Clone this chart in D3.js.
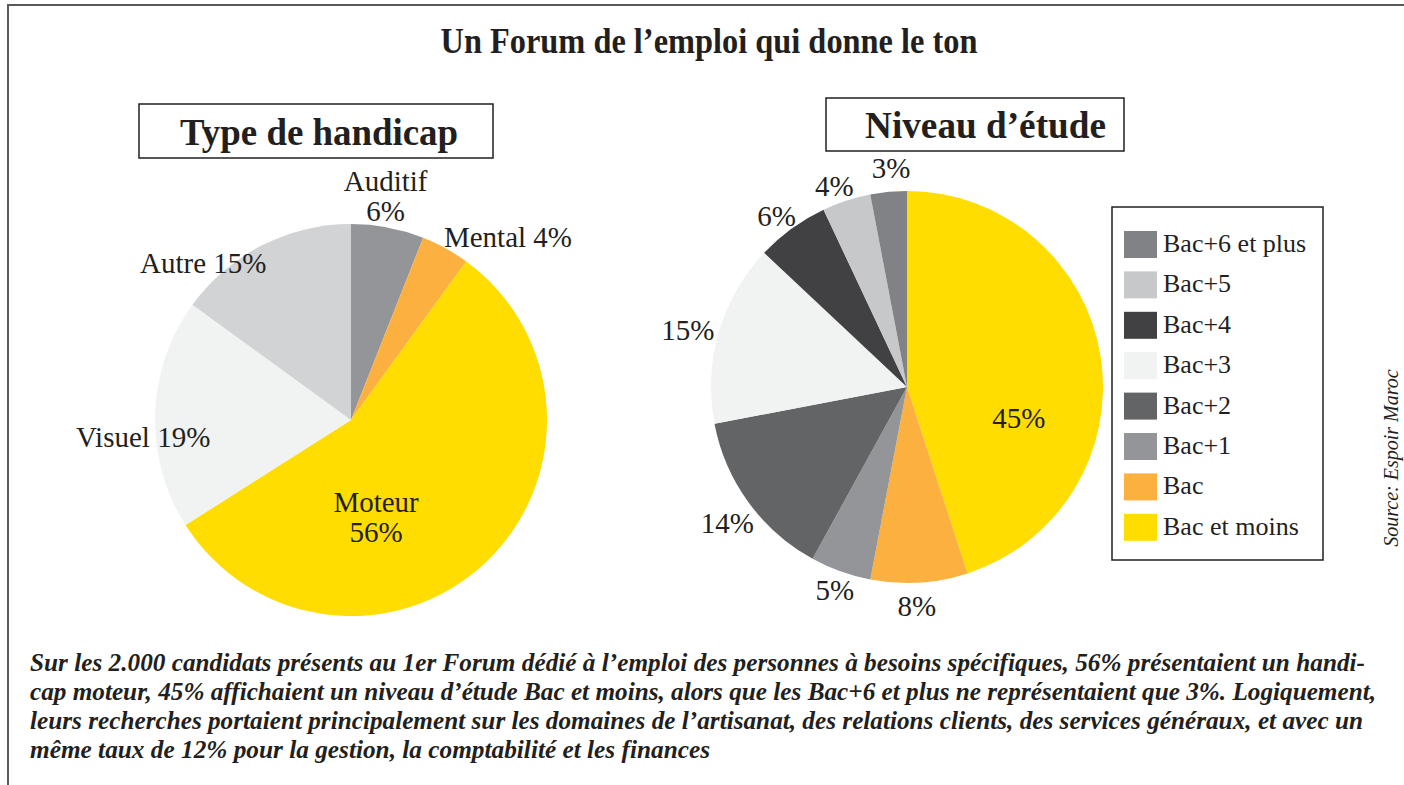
<!DOCTYPE html>
<html>
<head>
<meta charset="utf-8">
<script src="https://cdn.jsdelivr.net/npm/d3@7"></script>
<style>
  body { margin: 0; background: #fff; }
  text { font-family: "Liberation Serif", "Times New Roman", serif; fill: #231f20; }
</style>
</head>
<body>
<svg id="chart" width="1404" height="785"></svg>
<script>
// data
const handicapTypes = ['Auditif', 'Mental', 'Moteur', 'Visuel', 'Autre'];
const handicapValues = [6, 4, 56, 19, 15];
const handicapColors = ['#939598', '#fbb040', '#ffdd00', '#f1f2f2', '#d1d3d4'];

const etudeLevels = ['Bac et moins', 'Bac', 'Bac+1', 'Bac+2', 'Bac+3', 'Bac+4', 'Bac+5', 'Bac+6 et plus'];
const etudeValues = [45, 8, 5, 14, 15, 6, 4, 3];
const etudeColors = ['#ffdd00', '#fbb040', '#939598', '#636466', '#f1f2f2', '#414042', '#c7c8ca', '#808285'];

const title = 'Un Forum de l\u2019emploi qui donne le ton';
const source = 'Source: Espoir Maroc';
const captionLines = [
  'Sur les 2.000 candidats pr\u00e9sents au 1er Forum d\u00e9di\u00e9 \u00e0 l\u2019emploi des personnes \u00e0 besoins sp\u00e9cifiques, 56% pr\u00e9sentaient un handi-',
  'cap moteur, 45% affichaient un niveau d\u2019\u00e9tude Bac et moins, alors que les Bac+6 et plus ne repr\u00e9sentaient que 3%. Logiquement,',
  'leurs recherches portaient principalement sur les domaines de l\u2019artisanat, des relations clients, des services g\u00e9n\u00e9raux, et avec un',
  'm\u00eame taux de 12% pour la gestion, la comptabilit\u00e9 et les finances'
];

const svg = d3.select('#chart');

// frame (open on right/bottom, cropped in the original)
svg.append('path')
  .attr('d', 'M8,790V5H1404')
  .attr('fill', 'none')
  .attr('stroke', '#58595b')
  .attr('stroke-width', 2);

svg.append('text')
  .attr('x', 709).attr('y', 53)
  .attr('text-anchor', 'middle')
  .attr('font-size', 35)
  .attr('font-weight', 'bold')
  .attr('textLength', 537)
  .attr('lengthAdjust', 'spacingAndGlyphs')
  .text(title);

function boxTitle(txt, x, y, w, h, tx, tw) {
  svg.append('rect')
    .attr('x', x).attr('y', y).attr('width', w).attr('height', h)
    .attr('fill', '#fff').attr('stroke', '#231f20').attr('stroke-width', 1.5);
  svg.append('text')
    .attr('x', tx).attr('y', y + h - 13)
    .attr('font-size', 38)
    .attr('font-weight', 'bold')
    .attr('textLength', tw)
    .attr('lengthAdjust', 'spacingAndGlyphs')
    .text(txt);
}
boxTitle('Type de handicap', 139, 104, 354, 54, 180, 278);
boxTitle('Niveau d\u2019\u00e9tude', 826, 98, 298, 53, 865, 241);

// label tweaks: [dx, dy] from the arc centroid
const nudges = {
  'Auditif': [-7, -6], 'Mental': [50, 12], 'Moteur': [-42, 26], 'Visuel': [14, 24], 'Autre': [-47, 41],
  'Bac+6 et plus': [5, 2], 'Bac+5': [-4, 10], 'Bac+4': [0, 9], 'Bac+3': [-6, 5],
  'Bac+2': [0, 6], 'Bac+1': [3, -6], 'Bac': [-4, -3], 'Bac et moins': [15, 46]
};

function drawPie(cx, cy, r, names, values, colors, inside, labelFn) {
  let data = names.map((n, i) => ({name: n, value: values[i], color: colors[i]}));
  let arcs = d3.pie().sort(null).value(d => d.value)(data);
  let g = svg.append('g').attr('transform', `translate(${cx},${cy})`);
  let arc = d3.arc().innerRadius(0).outerRadius(r);
  g.selectAll('path.slice')
    .data(arcs)
    .join('path')
    .classed('slice', true)
    .attr('d', arc)
    .attr('fill', d => d.data.color);

  let outArc = d3.arc().innerRadius(r + 26).outerRadius(r + 26);
  let inArc = d3.arc().innerRadius(r * 0.5).outerRadius(r * 0.5);
  arcs.forEach(d => {
    let c = inside.includes(d.data.name) ? inArc.centroid(d) : outArc.centroid(d);
    let nd = nudges[d.data.name] || [0, 0];
    let lines = labelFn(d.data);
    let t = g.append('text')
      .attr('text-anchor', 'middle')
      .attr('font-size', 29)
      .attr('transform', `translate(${c[0] + nd[0]},${c[1] + nd[1]})`);
    lines.forEach((ln, i) => {
      t.append('tspan')
        .attr('x', 0)
        .attr('y', (i - (lines.length - 1) / 2) * 30 + 10)
        .text(ln);
    });
  });
}

drawPie(351, 420, 196, handicapTypes, handicapValues, handicapColors, ['Moteur'], d =>
  (d.name == 'Auditif' || d.name == 'Moteur') ? [d.name, d.value + '%'] : [d.name + ' ' + d.value + '%']);

drawPie(907, 387, 196, etudeLevels, etudeValues, etudeColors, ['Bac et moins'], d => [d.value + '%']);

// legend, top to bottom is the reverse of slice order
let legend = svg.append('g');
legend.append('rect')
  .attr('x', 1112).attr('y', 207).attr('width', 211).attr('height', 353)
  .attr('fill', '#fff').attr('stroke', '#231f20').attr('stroke-width', 1.5);
let legendItems = etudeLevels.map((n, i) => ({name: n, color: etudeColors[i]})).reverse();
let rowY = d3.scaleBand().domain(legendItems.map(d => d.name)).range([231, 231 + 40.4 * 8]);
let rows = legend.selectAll('g.row')
  .data(legendItems)
  .join('g')
  .classed('row', true)
  .attr('transform', d => `translate(1124,${rowY(d.name)})`);
rows.append('rect')
  .attr('width', 33).attr('height', 27)
  .attr('fill', d => d.color);
rows.append('text')
  .attr('x', 39).attr('y', 21)
  .attr('font-size', 26)
  .text(d => d.name);

svg.append('text')
  .attr('transform', 'translate(1398,458) rotate(-90)')
  .attr('text-anchor', 'middle')
  .attr('font-size', 20)
  .attr('font-style', 'italic')
  .text(source);

// caption
let capWidths = [1335, 1346, 1333, 680];
svg.append('g')
  .selectAll('text')
  .data(captionLines)
  .join('text')
  .attr('x', 30)
  .attr('y', (d, i) => 671 + i * 29)
  .attr('font-size', 25)
  .attr('font-weight', 'bold')
  .attr('font-style', 'italic')
  .attr('textLength', (d, i) => capWidths[i])
  .attr('lengthAdjust', 'spacingAndGlyphs')
  .text(d => d);
</script>
</body>
</html>
